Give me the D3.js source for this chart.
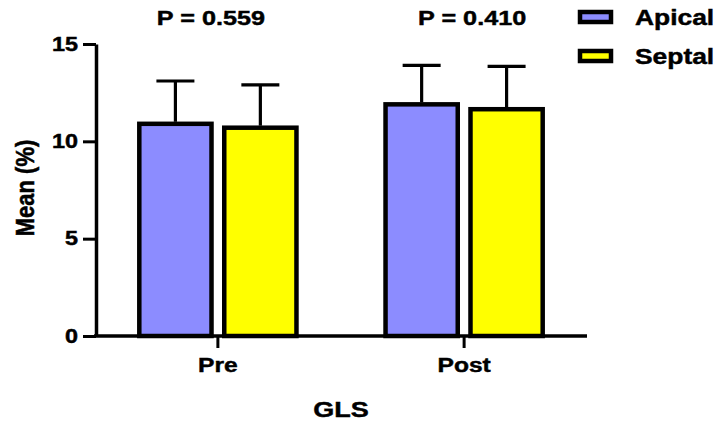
<!DOCTYPE html>
<html>
<head>
<meta charset="utf-8">
<script src="https://cdn.jsdelivr.net/npm/d3@7"></script>
<style>
  body { margin: 0; background: #fff; }
  text { font-family: "Liberation Sans", Arial, sans-serif; font-weight: bold; fill: #000; stroke: #000; stroke-width: 0.45px; }
</style>
</head>
<body>
<div id="chart"></div>
<script>
const groups = ["Pre", "Post"];
const series = ["Apical", "Septal"];
const apicalMean = [10.9, 11.9];
const apicalSD = [2.2, 2.0];
const septalMean = [10.7, 11.65];
const septalSD = [2.2, 2.2];
const pLabels = ["P = 0.559", "P = 0.410"];
const yTicks = [0, 5, 10, 15];

const colors = { Apical: "#8c8cff", Septal: "#ffff00" };
const sx = 1.2; // the source image is stretched horizontally

const width = 717, height = 423;
const svg = d3.select("#chart").append("svg")
    .attr("width", width)
    .attr("height", height);

const data = [];
groups.forEach((g, i) => {
    data.push({ group: g, series: "Apical", mean: apicalMean[i], sd: apicalSD[i] });
    data.push({ group: g, series: "Septal", mean: septalMean[i], sd: septalSD[i] });
});

const x0 = d3.scaleBand()
    .domain(groups)
    .range([96, 586])
    .paddingInner(0.31)
    .paddingOuter(0.15);

const x1 = d3.scaleBand()
    .domain(series)
    .range([0, x0.bandwidth()])
    .paddingInner(0.15)
    .paddingOuter(0.075);

const y = d3.scaleLinear()
    .domain([0, 15])
    .range([336, 44]);

// bars
svg.append("g")
    .selectAll("rect")
    .data(data)
    .join("rect")
    .attr("x", d => x0(d.group) + x1(d.series))
    .attr("y", d => y(d.mean))
    .attr("width", x1.bandwidth())
    .attr("height", d => y(0) - y(d.mean))
    .attr("fill", d => colors[d.series])
    .attr("stroke", "#000")
    .attr("stroke-width", 4.5);

// error bars (upper only)
const err = svg.append("g")
    .attr("stroke", "#000")
    .attr("stroke-width", 3.2)
    .selectAll("g")
    .data(data)
    .join("g")
    .attr("transform", d => `translate(${x0(d.group) + x1(d.series) + x1.bandwidth() / 2},0)`);

err.append("line")
    .attr("y1", d => y(d.mean) - 2)
    .attr("y2", d => y(d.mean + d.sd));

err.append("line")
    .attr("x1", -19)
    .attr("x2", 19)
    .attr("y1", d => y(d.mean + d.sd))
    .attr("y2", d => y(d.mean + d.sd));

// y axis
const yAxis = d3.axisLeft(y)
    .tickValues(yTicks)
    .tickSize(13)
    .tickSizeOuter(0);

svg.append("g")
    .attr("transform", "translate(96,0)")
    .call(yAxis)
    .call(g => g.select(".domain").attr("stroke-width", 3.5))
    .call(g => g.selectAll(".tick line").attr("stroke-width", 3))
    .call(g => g.selectAll(".tick text")
        .attr("x", -18 / sx)
        .attr("transform", `scale(${sx},1)`)
        .attr("font-size", 19.5)
        .attr("font-family", null));

// x axis
const xAxis = d3.axisBottom(x0)
    .tickSize(12)
    .tickSizeOuter(0)
    .tickPadding(9);

svg.append("g")
    .attr("transform", "translate(0,336)")
    .call(xAxis)
    .call(g => g.select(".domain").attr("stroke-width", 3.5).attr("d", "M94,0H587"))
    .call(g => g.selectAll(".tick line").attr("stroke-width", 3))
    .call(g => g.selectAll(".tick text")
        .attr("transform", `scale(${sx},1)`)
        .attr("font-size", 20.5)
        .attr("font-family", null));

// axis titles
svg.append("text")
    .attr("transform", `translate(34,188) scale(${sx},1) rotate(-90)`)
    .attr("text-anchor", "middle")
    .attr("font-size", 22)
    .text("Mean (%)");

svg.append("text")
    .attr("transform", `translate(341,417) scale(${sx},1)`)
    .attr("text-anchor", "middle")
    .attr("font-size", 22.5)
    .text("GLS");

// p-values
const pOffset = [-7, 8];
svg.append("g")
    .selectAll("text")
    .data(pLabels)
    .join("text")
    .attr("transform", (d, i) => `translate(${x0(groups[i]) + x0.bandwidth() / 2 + pOffset[i]},25) scale(${sx},1)`)
    .attr("text-anchor", "middle")
    .attr("font-size", 21)
    .text(d => d);

// legend
const legend = svg.append("g")
    .selectAll("g")
    .data(series)
    .join("g")
    .attr("transform", (d, i) => `translate(580,${12 + i * 39})`);

legend.append("rect")
    .attr("width", 31)
    .attr("height", 10)
    .attr("fill", d => colors[d])
    .attr("stroke", "#000")
    .attr("stroke-width", 4.5);

legend.append("text")
    .attr("transform", `translate(55,13) scale(${sx},1)`)
    .attr("font-size", 22)
    .text(d => d);
</script>
</body>
</html>
